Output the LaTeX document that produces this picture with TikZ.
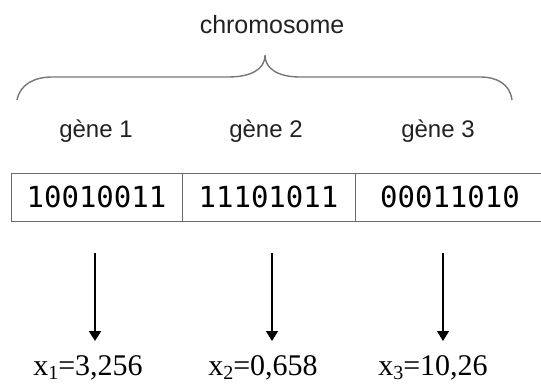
\documentclass[tikz,border=0pt]{standalone}
\usepackage{fontspec}
\setmainfont{Liberation Serif}
\newfontfamily\labfont{Liberation Sans}
\newfontfamily\bitfont{DejaVu Sans Mono}
\newfontfamily\valfont{Liberation Serif}
\usetikzlibrary{arrows.meta}
\definecolor{txt}{HTML}{222222}
\definecolor{brc}{HTML}{777777}
\definecolor{edge}{HTML}{6A6A6A}
\begin{document}
\begin{tikzpicture}[x=1pt,y=-1pt,
  title/.style={font=\labfont\fontsize{25}{25}\selectfont, text=txt, anchor=base, inner sep=0},
  genelab/.style={font=\labfont\fontsize{24}{24}\selectfont, text=txt, anchor=base, inner sep=0},
  cell/.style={draw=edge, line width=1pt, minimum height=48pt, inner sep=0,
    font=\bitfont\fontsize{29}{29}\selectfont, text=black},
  vallab/.style={font=\valfont\fontsize{30}{30}\selectfont, text=black, anchor=base, inner sep=0},
  arr/.style={draw=black, line width=1.3pt, -{Triangle[length=10pt,width=12pt]}},
  bracestyle/.style={draw=brc, line width=1.4pt}
]
\useasboundingbox (0,0) rectangle (541,383);
\fill[white] (0,0) rectangle (541,383);

% title and brace
\node[title] (chrom) at (272,33) {chromosome};
\coordinate (bl) at (17,100);
\coordinate (bl2) at (52,77);
\coordinate (bm1) at (228,77);
\coordinate (tip) at (265,55);
\coordinate (bm2) at (300,77);
\coordinate (br2) at (480,77);
\coordinate (br) at (512,100);
\draw[bracestyle] (bl) .. controls (20,84) and (35,77) .. (bl2) -- (bm1)
  .. controls (250,77) and (265,70) .. (tip)
  .. controls (265,70) and (280,77) .. (bm2) -- (br2)
  .. controls (497,77) and (510,84) .. (br);

% gene labels
\node[genelab] (g1) at (96,137) {gène 1};
\node[genelab] (g2) at (266,137) {gène 2};
\node[genelab] (g3) at (438,137) {gène 3};

% chromosome cells
\node[cell, minimum width=171pt] (c1) at (96.5,197) {10010011};
\node[cell, minimum width=173pt] (c2) at (268.5,197) {11101011};
\node[cell, minimum width=190pt] (c3) at (450,197) {00011010};

% values
\node[vallab] (v1) at (88,375) {x\raisebox{-0.15em}{\fontsize{20}{20}\selectfont 1}=3,256};
\node[vallab] (v2) at (263,375) {x\raisebox{-0.15em}{\fontsize{20}{20}\selectfont 2}=0,658};
\node[vallab] (v3) at (433,375) {x\raisebox{-0.15em}{\fontsize{20}{20}\selectfont 3}=10,26};

% arrows
\coordinate (a1s) at (95,253);  \coordinate (a1e) at (95,341);
\coordinate (a2s) at (272,253); \coordinate (a2e) at (272,341);
\coordinate (a3s) at (443,253); \coordinate (a3e) at (443,341);
\draw[arr, line width=2.2pt] (a1s) -- (a1e);
\draw[arr] (a2s) -- (a2e);
\draw[arr] (a3s) -- (a3e);
\end{tikzpicture}
\end{document}
